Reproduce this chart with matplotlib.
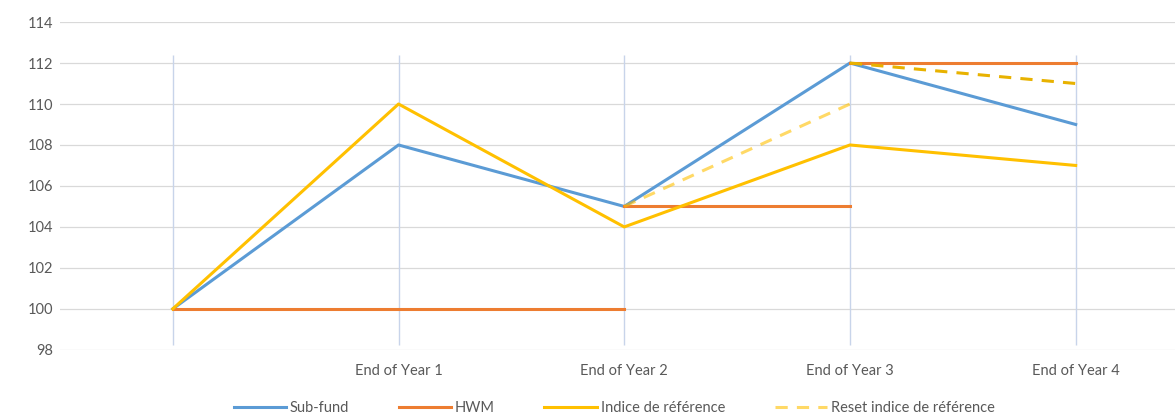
import numpy as np
import matplotlib
matplotlib.use("Agg")
import matplotlib.pyplot as plt

# données du graphique
categories = ["", "End of Year 1", "End of Year 2", "End of Year 3", "End of Year 4"]
sub_fund = [100, 108, 105, 112, 109]
indice = [100, 110, 104, 108, 107]
nan = np.nan
hwm_1 = [100, 100, 100, nan, nan]
hwm_2 = [nan, nan, 105, 105, nan]
hwm_3 = [nan, nan, nan, 112, 112]
reset_1 = [nan, nan, 105, 110, nan]
reset_2 = [nan, nan, nan, 112, 111]
y_ticks = [98, 100, 102, 104, 106, 108, 110, 112, 114]

BLUE = "#5B9BD5"
ORANGE = "#ED7D31"
GOLD = "#FFC000"
TEXT = "#595959"

plt.rcParams['font.family'] = ['Lato', 'DejaVu Sans']

fig = plt.figure(figsize=(11.75, 4.16), dpi=100)
ax = fig.add_axes([0.051, 0.159, 0.949, 0.788])

x = np.arange(len(categories))

# lignes verticales claires
ax.vlines(x, 98.25, 112.4, color="#C8D4EA", lw=1.0, zorder=1)

lw = 2.2
ax.plot(x, sub_fund, color=BLUE, lw=lw, label="Sub-fund", zorder=3)
ax.plot(x, hwm_1, color=ORANGE, lw=lw, label="HWM", zorder=3)
ax.plot(x, hwm_2, color=ORANGE, lw=lw, zorder=3)
ax.plot(x, hwm_3, color=ORANGE, lw=lw, zorder=3)
ax.plot(x, indice, color=GOLD, lw=lw, label="Indice de référence", zorder=4)
ax.plot(x, reset_1, color=GOLD, lw=lw, ls=(0, (4, 3)), alpha=0.6,
        label="Reset indice de référence", zorder=4)
ax.plot(x, reset_2, color="#E8B200", lw=lw, ls=(0, (4, 3)), zorder=4)

ax.set_xlim(-0.5, 4.44)
ax.set_ylim(98, 114)
ax.set_yticks(y_ticks)
ax.set_xticks(x)
ax.set_xticklabels(categories)
ax.grid(axis="y", color="#D9D9D9", lw=0.9, zorder=0)
ax.set_axisbelow(True)
for s in ax.spines.values():
    s.set_visible(False)
ax.tick_params(length=0, colors=TEXT, labelsize=10.5)
ax.tick_params(axis="x", pad=10)
ax.tick_params(axis="y", pad=5)

leg = ax.legend(loc="upper center", bbox_to_anchor=(0.497, -0.115), ncol=4,
                frameon=False, fontsize=10.5, handlelength=3.6, columnspacing=3.4,
                handletextpad=0.25)
for t in leg.get_texts():
    t.set_color(TEXT)

fig.savefig("out.png", dpi=100)
